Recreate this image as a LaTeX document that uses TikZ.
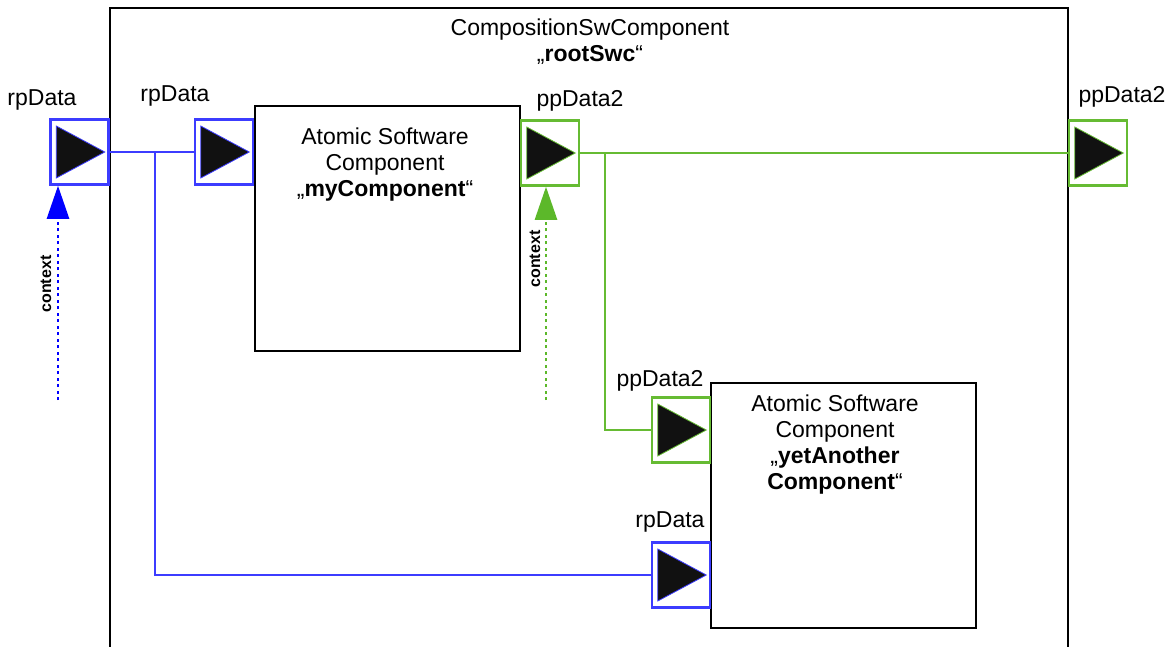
\documentclass[tikz,border=0pt]{standalone}
\usepackage{fontspec}
\setmainfont{Liberation Sans}
\usetikzlibrary{arrows.meta,calc}
\definecolor{pblue}{RGB}{60,60,255}
\definecolor{pgreen}{RGB}{102,187,51}
\definecolor{ablue}{RGB}{0,0,255}
\definecolor{agreen}{RGB}{92,184,42}
\definecolor{trifill}{RGB}{17,17,17}
\tikzset{
  portbox/.style={draw=#1, line width=2.5pt, minimum width=58pt, minimum height=65pt, inner sep=0pt, fill=white},
  comp/.style={draw=black, line width=2pt, inner sep=0pt},
  lbl/.style={font=\fontsize{23}{26}\selectfont, inner sep=0pt},
  ctx/.style={font=\fontsize{16}{18}\selectfont\bfseries, inner sep=0pt, rotate=90},
  conn/.style={line width=2.4pt, draw=#1},
  ctxarrow/.style={line width=2.5pt, draw=#1, dash pattern=on 3pt off 3.5pt, -{Triangle[width=22pt,length=33pt,fill=#1]}},
}
\newcommand{\porttri}[2]{%
  \fill[trifill] ($(#1.west)+(7,-26)$) -- ($(#1.east)+(-5,0)$) -- ($(#1.west)+(7,26)$) -- cycle;
  \draw[#2, line width=0.8pt] ($(#1.west)+(7,-26)$) -- ($(#1.east)+(-5,0)$) -- ($(#1.west)+(7,26)$) -- cycle;
}
\begin{document}
\begin{tikzpicture}[x=1pt,y=-1pt]
\useasboundingbox (0,0) rectangle (1174,646);
% outer composition frame (open at bottom)
\draw[line width=2pt] (110,650) -- (110,8) -- (1068,8) -- (1068,650);
\node[lbl, align=center] (title) at (590,42) {CompositionSwComponent\\„\textbf{rootSwc}“};

% component boxes
\node[comp, minimum width=265pt, minimum height=245pt] (myc) at (387.5,228.5) {};
\node[lbl, align=center] (myctext) at (385,165) {Atomic Software\\Component\\„\textbf{myComponent}“};
\node[comp, minimum width=265pt, minimum height=245pt] (yac) at (843.5,505.5) {};
\node[lbl, align=center] (yactext) at (835,445) {Atomic Software\\Component\\„\textbf{yetAnother}\\\textbf{Component}“};

% ports
\node[portbox=pblue] (p1) at (79.5,152) {};
\node[portbox=pblue] (p2) at (224,152) {};
\node[portbox=pgreen] (p3) at (550,153) {};
\node[portbox=pgreen] (p4) at (1098,153) {};
\node[portbox=pgreen] (p5) at (681,430) {};
\node[portbox=pblue] (p6) at (681,575) {};
\porttri{p1}{pblue}
\porttri{p2}{pblue}
\porttri{p3}{pgreen}
\porttri{p4}{pgreen}
\porttri{p5}{pgreen}
\porttri{p6}{pblue}

% port labels
\node[lbl] (l1) at (42,100) {rpData};
\node[lbl] (l2) at (175,96) {rpData};
\node[lbl] (l3) at (580,101) {ppData2};
\node[lbl] (l4) at (1122,97) {ppData2};
\node[lbl] (l5) at (660,381) {ppData2};
\node[lbl] (l6) at (670,522) {rpData};

% connectors
\coordinate (j1) at (155,152);
\coordinate (j2) at (605,153);
\draw[conn=pblue] (p1.east) -- (p2.west);
\draw[conn=pblue] (j1) |- (p6.west);
\draw[conn=pgreen] (p3.east) -- (p4.west);
\draw[conn=pgreen] (j2) |- (p5.west);

% context arrows
\coordinate (c1) at (58,400);
\coordinate (c2) at (546,400);
\draw[ctxarrow=ablue] (c1) -- (c1 |- p1.south);
\draw[ctxarrow=agreen] (c2) -- (c2 |- p3.south);
\node[ctx] (ct1) at (46,284) {context};
\node[ctx] (ct2) at (535,259) {context};
\end{tikzpicture}
\end{document}
